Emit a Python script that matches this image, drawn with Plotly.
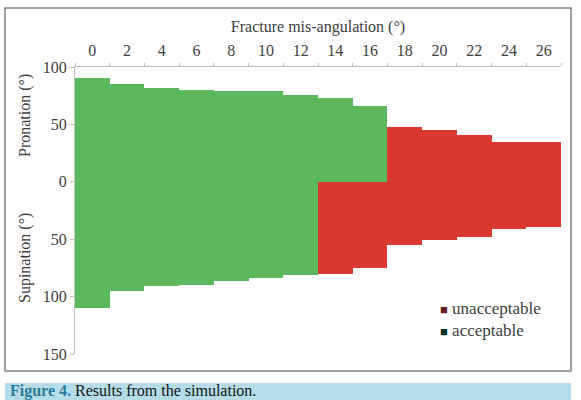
import plotly.graph_objects as go

# ---- data ----
angles = [0, 2, 4, 6, 8, 10, 12, 14, 16, 18, 20, 22, 24, 26]
pronation = [90, 85, 82, 80, 79, 79, 76, 73, 66, 48, 45, 41, 35, 35]
supination = [110, 95, 91, 90, 86, 84, 81, 80, 75, 55, 51, 48, 41, 39]
pronation_ok = [True] * 9 + [False] * 5
supination_ok = [True] * 7 + [False] * 7
y_tickvals = [-150, -100, -50, 0, 50, 100]
y_ticktext = ["150", "100", "50", "0", "50", "100"]
x_tickvals = angles
x_boundaries = [a - 1 for a in angles] + [angles[-1] + 1]

GREEN = "#5cb85c"
RED = "#dc3832"
FONT = "Liberation Serif"
TXT = "#404040"

W, H = 581, 400
L, R, T, B = 75, 20, 67, 46


def px(x):
    return (x - L) / (W - L - R)


def py(y):
    return (H - B - y) / (H - T - B)


fig = go.Figure()
fig.add_trace(go.Bar(
    x=angles, y=pronation, base=0, width=2,
    marker=dict(color=[GREEN if ok else RED for ok in pronation_ok], line=dict(width=0)),
    showlegend=False, name="Pronation"))
fig.add_trace(go.Bar(
    x=angles, y=[-s for s in supination], base=0, width=2,
    marker=dict(color=[GREEN if ok else RED for ok in supination_ok], line=dict(width=0)),
    showlegend=False, name="Supination"))

fig.update_layout(
    width=W, height=H,
    margin=dict(l=L, r=R, t=T, b=B),
    paper_bgcolor="white", plot_bgcolor="white",
    barmode="overlay", bargap=0,
    font=dict(family=FONT, size=16, color=TXT),
    xaxis=dict(
        side="top", range=[-1, 27], tickvals=x_tickvals,
        showline=True, linecolor="#bfbfbf", linewidth=1,
        ticks="", showgrid=False, zeroline=False, ticklabelstandoff=4,
        tickfont=dict(family=FONT, size=16, color=TXT),
        minor=dict(tickvals=x_boundaries, ticks="outside", ticklen=3,
                   tickcolor="#bfbfbf", showgrid=False),
        title=dict(text="Fracture mis-angulation (°)", standoff=4,
                   font=dict(family=FONT, size=16, color=TXT)),
    ),
    yaxis=dict(
        range=[-150, 100], tickvals=y_tickvals, ticktext=y_ticktext,
        showline=True, linecolor="#bfbfbf", linewidth=1,
        ticks="outside", ticklen=4, tickcolor="#bfbfbf",
        showgrid=False, zeroline=False,
        tickfont=dict(family=FONT, size=16, color=TXT),
    ),
    shapes=[
        dict(type="rect", xref="paper", yref="paper",
             x0=px(5), x1=px(571), y0=py(371), y1=py(8),
             line=dict(color="#808080", width=1.5), fillcolor="rgba(0,0,0,0)"),
        dict(type="rect", xref="paper", yref="paper",
             x0=px(5), x1=px(571), y0=py(400), y1=py(383),
             line=dict(width=0), fillcolor="#b5dde8"),
    ],
    annotations=[
        dict(text="Pronation (°)", xref="paper", yref="paper",
             x=px(25), y=py(116), xanchor="center", yanchor="middle",
             textangle=-90, showarrow=False,
             font=dict(family=FONT, size=16, color=TXT)),
        dict(text="Supination (°)", xref="paper", yref="paper",
             x=px(25), y=py(258), xanchor="center", yanchor="middle",
             textangle=-90, showarrow=False,
             font=dict(family=FONT, size=16, color=TXT)),
        dict(text="<span style='color:#6b1c26;font-size:13px'>■</span> unacceptable", xref="paper", yref="paper",
             x=px(438), y=py(308), xanchor="left", yanchor="middle", showarrow=False,
             font=dict(family=FONT, size=17, color=TXT)),
        dict(text="<span style='color:#0f3325;font-size:13px'>■</span> acceptable", xref="paper", yref="paper",
             x=px(438), y=py(330), xanchor="left", yanchor="middle", showarrow=False,
             font=dict(family=FONT, size=17, color=TXT)),
        dict(text="<span style='color:#2b7d9c'><b>Figure 4.</b></span> Results from the simulation.",
             xref="paper", yref="paper", x=px(8), y=py(391), xanchor="left", yanchor="middle",
             showarrow=False, font=dict(family=FONT, size=16, color="#111111")),
    ],
)

fig.write_html("out.html")
